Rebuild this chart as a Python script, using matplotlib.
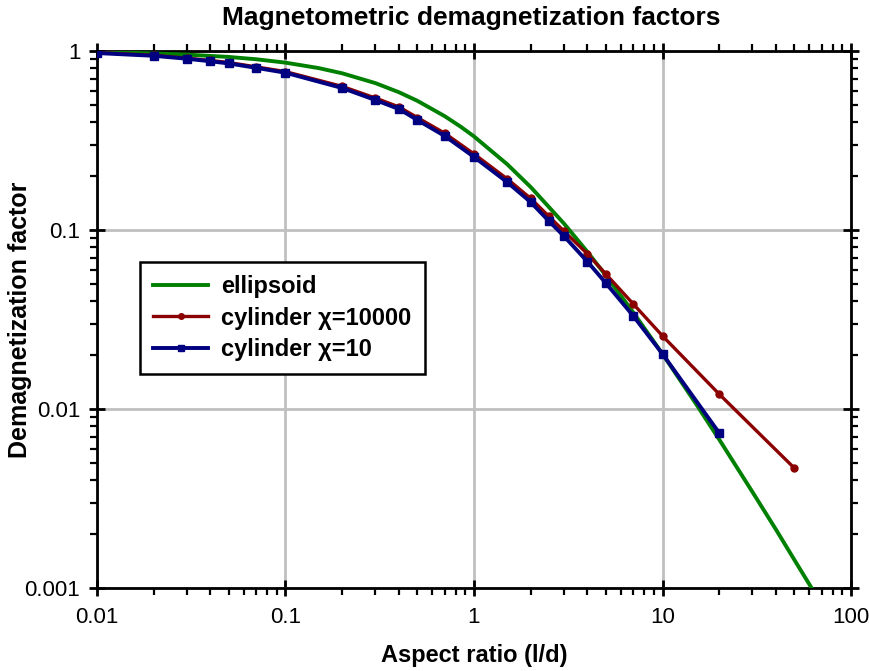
import matplotlib
matplotlib.use('Agg')
import matplotlib.pyplot as plt
from matplotlib.ticker import LogLocator, NullFormatter, FixedLocator

plt.rcParams['font.family'] = ['Liberation Sans', 'DejaVu Sans']

# ellipsoid
ell_x = [0.01, 0.02, 0.03, 0.05, 0.07, 0.1, 0.15, 0.2, 0.3, 0.4, 0.5, 0.7, 0.85,
         1, 1.5, 2, 3, 4, 5, 7, 10, 15, 20, 30, 40, 50, 62, 65]
ell_y = [0.9845, 0.9694, 0.9546, 0.9262, 0.8991, 0.8608, 0.8026, 0.7505, 0.6614,
         0.5882, 0.5272, 0.4321, 0.3776, 0.3333, 0.2330, 0.1736, 0.1087, 0.0754,
         0.0558, 0.0346, 0.0203, 0.01075, 0.00675, 0.00344, 0.00212, 0.00144,
         0.000994, 0.000916]

# cylinder chi=10000
cyl1_x = [0.01, 0.02, 0.03, 0.04, 0.05, 0.07, 0.1, 0.2, 0.3, 0.4, 0.5, 0.7,
          1, 1.5, 2, 2.5, 3, 4, 5, 7, 10, 20, 50]
cyl1_y = [0.98, 0.946, 0.912, 0.885, 0.862, 0.815, 0.767, 0.634, 0.546, 0.487,
          0.425, 0.347, 0.266, 0.193, 0.150, 0.119, 0.0985, 0.0735, 0.0568,
          0.0386, 0.0256, 0.0121, 0.00468]

# cylinder chi=10
cyl2_x = [0.01, 0.02, 0.03, 0.04, 0.05, 0.07, 0.1, 0.2, 0.3, 0.4, 0.5, 0.7,
          1, 1.5, 2, 2.5, 3, 4, 5, 7, 10, 20]
cyl2_y = [0.974, 0.94, 0.905, 0.876, 0.852, 0.805, 0.756, 0.621, 0.532, 0.474,
          0.412, 0.335, 0.256, 0.185, 0.143, 0.112, 0.0925, 0.0665, 0.0506,
          0.0331, 0.0203, 0.00734]

x_ticks = [0.01, 0.1, 1, 10, 100]
x_labels = ['0.01', '0.1', '1', '10', '100']
y_ticks = [0.001, 0.01, 0.1, 1]
y_labels = ['0.001', '0.01', '0.1', '1']

fig = plt.figure(figsize=(8.69, 6.71), dpi=100)
ax = fig.add_axes([0.1116, 0.1237, 0.8677, 0.8003])

ax.plot(ell_x, ell_y, color='#008000', lw=2.8, label='ellipsoid', zorder=3)
ax.plot(cyl1_x, cyl1_y, color='#8b0000', lw=2.4, marker='o', ms=5,
        label='cylinder \u03c7=10000', zorder=4)
ax.plot(cyl2_x, cyl2_y, color='#000080', lw=2.8, marker='s', ms=6,
        label='cylinder \u03c7=10', zorder=5)

ax.set_xscale('log')
ax.set_yscale('log')
ax.set_xlim(0.01, 100)
ax.set_ylim(0.001, 1)

ax.xaxis.set_major_locator(FixedLocator(x_ticks))
ax.yaxis.set_major_locator(FixedLocator(y_ticks))
ax.set_xticklabels(x_labels)
ax.set_yticklabels(y_labels)
ax.xaxis.set_minor_locator(LogLocator(base=10, subs=range(2, 10), numticks=20))
ax.yaxis.set_minor_locator(LogLocator(base=10, subs=range(2, 10), numticks=20))
ax.xaxis.set_minor_formatter(NullFormatter())
ax.yaxis.set_minor_formatter(NullFormatter())

ax.tick_params(which='major', direction='inout', length=12, width=2,
               top=True, right=True, labelsize=16, pad=8)
ax.tick_params(axis='y', which='major', pad=6)
ax.tick_params(which='minor', direction='out', length=5, width=1.6,
               top=True, right=True)
for s in ax.spines.values():
    s.set_linewidth(2)

ax.grid(True, which='major', color='#c0c0c0', lw=2, zorder=0)
ax.set_axisbelow(True)

fig.text(0.542, 1 - 18 / 671, 'Magnetometric demagnetization factors',
         fontsize=19, fontweight='bold', ha='center', va='center')
ax.set_xlabel('Aspect ratio (l/d)', fontsize=17, fontweight='bold')
ax.set_ylabel('Demagnetization factor', fontsize=18, fontweight='bold')
ax.xaxis.set_label_coords(0.5, -0.104)
ax.yaxis.set_label_coords(-0.086, 0.5)

leg = ax.legend(loc='upper left', bbox_to_anchor=(0.057, 0.607), borderaxespad=0,
                fancybox=False, edgecolor='black', framealpha=1, borderpad=0.55,
                handlelength=2.35, handletextpad=0.55,
                prop={'weight': 'bold', 'size': 17},
                labelspacing=0.37, markerscale=0.8)
leg.get_frame().set_linewidth(1.8)

fig.savefig('out.png', dpi=100)
